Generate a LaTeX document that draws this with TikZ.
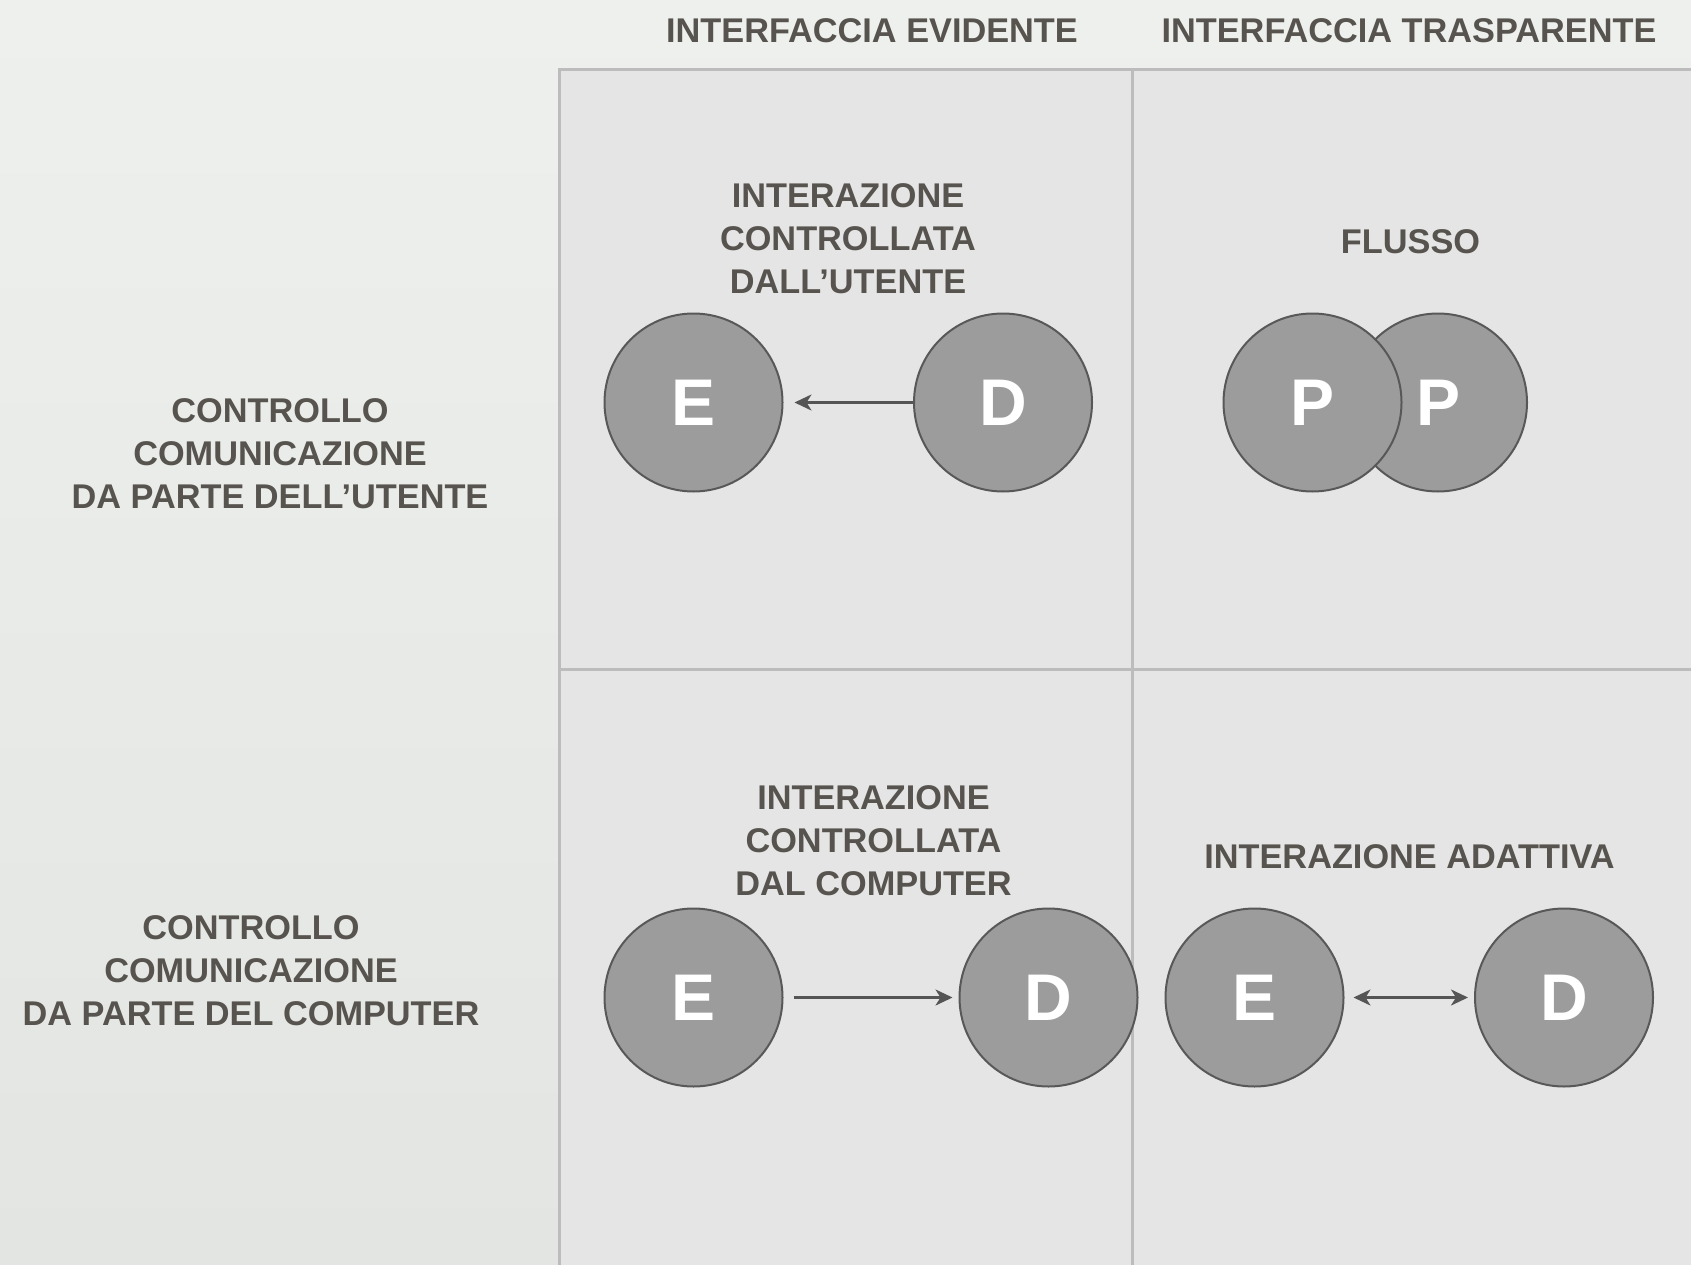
\documentclass[tikz,border=0pt]{standalone}
\usepackage{fontspec}
\setmainfont{Liberation Sans}
\usetikzlibrary{arrows.meta}
\definecolor{txt}{HTML}{57534E}
\definecolor{bgtop}{HTML}{EEF0ED}
\definecolor{bgbot}{HTML}{E2E5E1}
\definecolor{cellfill}{HTML}{E5E5E5}
\definecolor{gridc}{HTML}{BCBCBC}
\definecolor{discfill}{HTML}{9C9C9C}
\definecolor{discline}{HTML}{585858}
\definecolor{arrowc}{HTML}{555555}
\begin{document}
\begin{tikzpicture}[x=1pt,y=-1pt,
  label/.style={text=txt, font=\fontsize{34.3}{43}\selectfont\bfseries, align=center, inner sep=0pt},
  disc/.style={circle, draw=discline, line width=2pt, fill=discfill, minimum size=178pt, inner sep=0pt, text=white, font=\fontsize{66}{66}\selectfont\bfseries},
  gridline/.style={draw=gridc, line width=3pt},
  tip/.tip={Stealth[length=17pt,width=16pt,inset=5pt]},
  arr/.style={draw=arrowc, line width=2.5pt, -tip},
  darr/.style={draw=arrowc, line width=2.5pt, tip-tip}
]
\useasboundingbox (0,0) rectangle (1691,1265);
\shade[top color=bgtop, bottom color=bgbot] (0,0) rectangle (1691,1265);
\fill[cellfill] (559.5,69.5) rectangle (1691,1265);
\draw[gridline] (559.5,1265) -- (559.5,69.5) -- (1691,69.5);
\draw[gridline] (559.5,669) -- (1691,669);
\draw[gridline] (1132.5,69.5) -- (1132.5,1265);

% column headers
\node[label] (h1) at (872,30.5) {INTERFACCIA EVIDENTE};
\node[label] (h2) at (1409,30.5) {INTERFACCIA TRASPARENTE};

% row headers
\node[label] (r1) at (280,454) {CONTROLLO\\COMUNICAZIONE\\DA PARTE DELL’UTENTE};
\node[label] (r2) at (251,970.5) {CONTROLLO\\COMUNICAZIONE\\DA PARTE DEL COMPUTER};

% cell titles
\node[label] (t1) at (848,239) {INTERAZIONE\\CONTROLLATA\\DALL’UTENTE};
\node[label] (t2) at (1410.5,241.5) {FLUSSO};
\node[label] (t3) at (873.5,841) {INTERAZIONE\\CONTROLLATA\\DAL COMPUTER};
\node[label] (t4) at (1409.5,857) {INTERAZIONE ADATTIVA};

% circles
\node[disc] (E1) at (693.5,402.5) {E};
\node[disc] (D1) at (1003,402.5) {D};
\node[disc] (P2) at (1438,402.5) {P};
\node[disc] (P1) at (1312.5,402.5) {P};
\node[disc] (E2) at (693.5,997.5) {E};
\node[disc] (D2) at (1048.5,997.5) {D};
\node[disc] (E3) at (1254.5,997.5) {E};
\node[disc] (D3) at (1564,997.5) {D};

% connectors
\draw[arr, shorten >=11pt] (D1) -- (E1);
\draw[arr, shorten <=10pt, shorten >=6pt] (E2) -- (D2);
\draw[darr, shorten <=9pt, shorten >=6pt] (E3) -- (D3);
\end{tikzpicture}
\end{document}
